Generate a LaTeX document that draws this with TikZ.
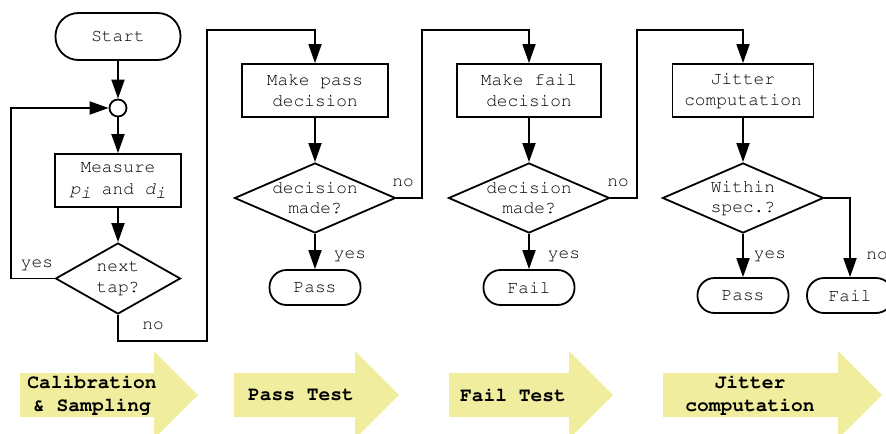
\documentclass[tikz,border=0pt]{standalone}
\usepackage[T1]{fontenc}
\usepackage{courier}
\renewcommand{\familydefault}{\ttdefault}
\usetikzlibrary{shapes.geometric,arrows.meta}

\definecolor{stagefill}{RGB}{240,238,158}

\tikzset{
  >={Triangle[length=9.5pt,width=6.5pt]},
  box/.style={draw, fill=white, line width=0.9pt, align=center, minimum height=26.5pt, inner sep=2pt},
  term/.style={draw, fill=white, line width=0.9pt, rounded corners=8.5pt, minimum width=45.5pt, minimum height=17.5pt},
  decide/.style={draw, fill=white, diamond, line width=0.9pt, align=center, inner sep=0pt, minimum width=80.5pt, minimum height=35pt, aspect=2.3},
  lbl/.style={inner sep=0pt},
  stage/.style={align=center, font=\fontsize{9.8}{11.5}\selectfont\bfseries, inner sep=0pt},
  flow/.style={->, line width=0.9pt},
}

\begin{document}
\begin{tikzpicture}[x=0.5pt, y=-0.5pt, font=\fontsize{8.9}{10.3}\selectfont]
    \useasboundingbox (0,0) rectangle (886,433);

    % calibration and sampling loop
    \node[term, rounded corners=11.5pt, minimum width=62.5pt, minimum height=23.5pt] (start) at (118,36.5) {Start};
    \node[circle, draw, fill=white, line width=0.9pt, minimum size=8.5pt, inner sep=0pt] (join) at (118,108) {};
    \node[box, minimum width=63pt, font=\fontsize{8.9}{11}\selectfont] (meas) at (118,180.5)
        {Measure\\{\itshape p}\raisebox{-0.45ex}{\itshape i} and {\itshape d}\raisebox{-0.45ex}{\itshape i}};
    \node[decide, minimum width=62.5pt, minimum height=35.5pt, aspect=1.76] (tap) at (118,278.5) {next\\tap?};

    % pass test
    \node[box, minimum width=73pt] (passbox) at (315,90.5) {Make pass\\decision};
    \node[decide] (dec1) at (315,198) {decision\\made?};
    \node[term] (passA) at (315,287.5) {Pass};

    % fail test
    \node[box, minimum width=72pt] (failbox) at (529,90.5) {Make fail\\decision};
    \node[decide] (dec2) at (529,198) {decision\\made?};
    \node[term] (failA) at (529,287.5) {Fail};

    % jitter computation
    \node[box, minimum width=70.5pt] (jitbox) at (743,90.5) {Jitter\\computation};
    \node[decide] (spec) at (743,198) {Within\\spec.?};
    \node[term] (passB) at (743,295.5) {Pass};
    \node[term, minimum width=43pt] (failB) at (850,295.5) {Fail};

    \coordinate (back) at (11,108);
    \coordinate (lowA) at (207,341);
    \coordinate (topA) at (207,30);
    \coordinate (topB) at (422,30);
    \coordinate (topC) at (637,30);

    % connectors
    \draw[flow] (start) -- (join);
    \draw[flow] (join) -- (meas);
    \draw[flow] (meas) -- (tap);
    \draw[flow] (tap.west) -| (back) -- (join.west);
    \node[lbl] (yes0) at (37,265) {yes};
    \draw[flow] (tap.south) |- (lowA) -- (topA) -| (passbox.north);
    \node[lbl] (no0) at (153,326) {no};

    \draw[flow] (passbox) -- (dec1);
    \draw[flow] (dec1) -- (passA);
    \node[lbl] (yes1) at (350,256) {yes};
    \draw[flow] (dec1.east) -| (topB) -| (failbox.north);
    \node[lbl] (no1) at (403,183) {no};

    \draw[flow] (failbox) -- (dec2);
    \draw[flow] (dec2) -- (failA);
    \node[lbl] (yes2) at (564,256) {yes};
    \draw[flow] (dec2.east) -| (topC) -| (jitbox.north);
    \node[lbl] (no2) at (618,183) {no};

    \draw[flow] (jitbox) -- (spec);
    \draw[flow] (spec) -- (passB);
    \node[lbl] (yes3) at (770,256) {yes};
    \draw[flow] (spec.east) -| (failB.north);
    \node[lbl] (no3) at (877,256) {no};

    % stage arrows
    \fill[stagefill] (20,373) -- (154,373) -- (154,351) -- (198,395) -- (154,439) -- (154,417) -- (20,417) -- cycle;
    \fill[stagefill] (234,373) -- (355,373) -- (355,351) -- (399,395) -- (355,439) -- (355,417) -- (234,417) -- cycle;
    \fill[stagefill] (449,373) -- (569,373) -- (569,351) -- (613,395) -- (569,439) -- (569,417) -- (449,417) -- cycle;
    \fill[stagefill] (663,373) -- (838,373) -- (838,351) -- (882,395) -- (838,439) -- (838,417) -- (663,417) -- cycle;

    \node[stage] (calib) at (92,394.5) {Calibration\\\& Sampling};
    \node[stage] (passtest) at (301,395) {Pass Test};
    \node[stage] (failtest) at (513,395) {Fail Test};
    \node[stage] (jitter) at (750,394.5) {Jitter\\computation};

\end{tikzpicture}
\end{document}
